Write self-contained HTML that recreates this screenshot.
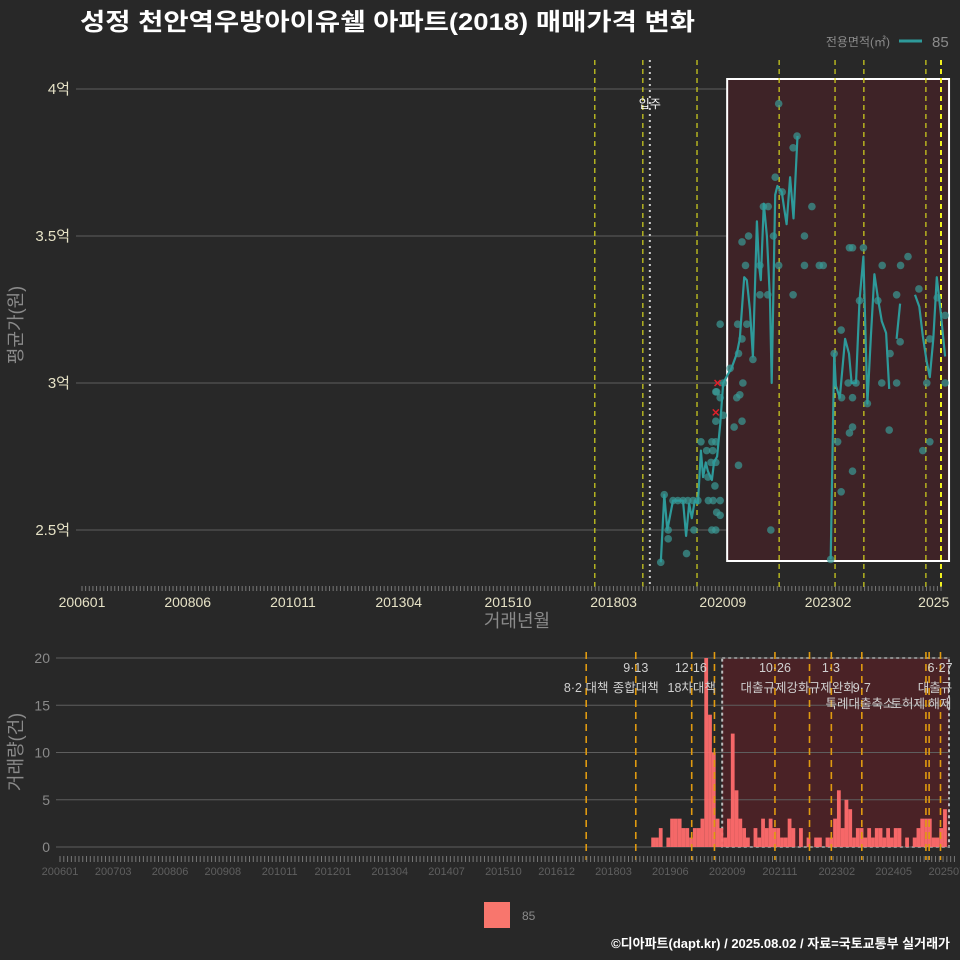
<!DOCTYPE html>
<html><head><meta charset="utf-8">
<style>
html,body{margin:0;padding:0;background:#282828;}
svg{display:block;font-family:"Liberation Sans","Noto Sans CJK KR",sans-serif;}
</style></head>
<body>
<svg id="chart" width="960" height="960" viewBox="0 0 960 960" xmlns="http://www.w3.org/2000/svg">
<rect x="0" y="0" width="960" height="960" fill="#282828"/>
<text x="80" y="30" fill="#ffffff" font-size="24" font-weight="bold" textLength="615" lengthAdjust="spacingAndGlyphs">성정 천안역우방아이유쉘 아파트(2018) 매매가격 변화</text>
<g>
<text x="890" y="46" fill="#8a8a8a" font-size="12" text-anchor="end">전용면적(㎡)</text>
<line x1="899" y1="41" x2="922" y2="41" stroke="#2e9a9a" stroke-width="3"/>
<text x="932" y="47" fill="#8a8a8a" font-size="15">85</text>
</g>
<g id="topPanel"></g>
<g id="bottomPanel"></g>
<g>
<rect x="484" y="902" width="26" height="26" fill="#f8766d"/>
<text x="522" y="920" fill="#8a8a8a" font-size="12">85</text>
</g>
<text x="950" y="948" fill="#ffffff" font-size="13" font-weight="bold" text-anchor="end">©디아파트(dapt.kr) / 2025.08.02 / 자료=국토교통부 실거래가</text>
</svg>
<script>
// ---- top chart data (decimal year, price in 억) ----
const lineDates=[2019.25,2019.33,2019.40,2019.53,2019.76,2019.83,2019.90,2019.96,2020.03,2020.10,2020.17,2020.22,2020.28,2020.33,2020.42,2020.47,2020.54,2020.61,2020.68,2020.79,2020.87,2020.99,2021.06,2021.16,2021.22,2021.29,2021.36,2021.45,2021.50,2021.54,2021.61,2021.68,2021.75,2021.79,2021.87,2021.92,2022.02,2022.07,2022.13,2022.21,2022.25,2022.29,2022.38,null,2023.14,2023.22,2023.26,2023.35,2023.47,2023.56,2023.62,2023.72,2023.80,2023.89,2023.98,2024.06,2024.14,2024.23,2024.31,2024.41,2024.48,null,2024.65,2024.73,null,2025.07,2025.17,2025.25,2025.34,2025.41,2025.49,2025.57,2025.66,2025.76];
const lineValues=[2.39,2.62,2.50,2.60,2.60,2.48,2.59,2.54,2.60,2.59,2.77,2.68,2.73,2.70,2.67,2.73,2.75,2.86,3.00,3.03,3.05,3.10,3.15,3.36,3.35,3.25,3.09,3.55,3.40,3.35,3.61,3.50,3.28,3.00,3.64,3.67,3.65,3.60,3.54,3.70,3.63,3.56,3.84,null,2.40,3.10,2.99,2.95,3.15,3.10,3.00,3.00,3.28,3.43,2.93,3.16,3.37,3.28,3.21,3.17,2.98,null,3.15,3.27,null,3.30,3.26,3.16,3.07,3.02,3.15,3.36,3.24,3.09];
const pointDates=[2021.95,2022.37,2022.28,2021.87,2022.03,2022.71,2021.60,2021.71,2021.11,2021.26,2021.83,2022.54,2023.57,2023.64,2023.89,2021.19,2021.52,2021.95,2022.54,2022.88,2022.97,2024.32,2024.74,2024.91,2021.52,2021.70,2022.28,2024.65,2025.16,2020.61,2021.01,2021.22,2021.11,2021.36,2021.03,2020.84,2023.22,2023.38,2023.80,2024.22,2024.50,2024.73,2025.76,2025.58,2025.41,2020.68,2021.13,2024.31,2024.65,2023.54,2023.72,2025.34,2025.76,2020.51,2020.99,2023.39,2023.64,2023.98,2020.51,2020.68,2020.93,2021.11,2021.03,2024.48,2023.64,2023.57,2023.30,2025.41,2025.25,2023.64,2023.38,2021.77,2023.14,2020.53,2020.61,2021.06,2020.17,2020.42,2020.51,2020.30,2020.44,2020.40,2020.51,2020.33,2020.49,2019.53,2019.64,2019.76,2019.87,2019.99,2020.10,2020.34,2020.45,2020.61,2020.53,2020.61,2020.42,2020.51,2020.01,2019.42,2019.42,2019.84,2019.25,2019.33];
const pointValues=[3.95,3.84,3.80,3.70,3.65,3.60,3.60,3.60,3.48,3.50,3.50,3.50,3.46,3.46,3.46,3.40,3.40,3.40,3.40,3.40,3.40,3.40,3.40,3.43,3.30,3.30,3.30,3.30,3.32,3.20,3.20,3.20,3.15,3.08,3.10,3.05,3.10,3.18,3.28,3.28,3.10,3.14,3.23,3.29,3.15,3.00,3.00,3.00,3.00,3.00,3.00,3.00,3.00,2.97,2.95,2.95,2.95,2.93,2.87,2.89,2.85,2.87,2.72,2.84,2.85,2.83,2.80,2.80,2.77,2.70,2.63,2.50,2.40,2.97,2.95,2.96,2.80,2.80,2.80,2.77,2.77,2.73,2.73,2.68,2.65,2.60,2.60,2.60,2.60,2.60,2.60,2.60,2.60,2.60,2.56,2.55,2.50,2.50,2.50,2.50,2.47,2.42,2.39,2.62];
const crossDates=[2020.51,2020.55];
const crossValues=[2.90,3.00];
const yTicks=[2.5,3,3.5,4];
const yTickLabels=["2.5억","3억","3.5억","4억"];
const xTickLabels=["200601","200806","201011","201304","201510","201803","202009","202302","2025"];
const xTickDates=[2006.0,2008.42,2010.83,2013.25,2015.75,2018.17,2020.67,2023.08,2025.5];
const topPolicyDates=[2017.74,2018.84,2020.08,2021.96,2023.24,2023.90,2025.32];
const moveInDate=2019.0;
const topShade=[2020.77,2025.85];
// ---- bottom chart data ----
const barStart=[2019,1];
const barCounts=[1,1,2,0,1,3,3,3,2,2,1,2,2,3,20,14,10,3,2,1,3,12,6,3,2,1,0,2,1,3,2,3,2,2,1,1,3,2,0,2,0,1,0,1,1,0,1,1,3,6,2,5,4,1,2,2,1,2,1,2,2,1,2,1,2,2,0,1,0,1,2,3,3,3,1,1,2,4];
const bYTicks=[0,5,10,15,20];
const bXTickLabels=["200601","200703","200806","200908","201011","201201","201304","201407","201510","201612","201803","201906","202009","202111","202302","202405","202507"];
const bXTickDates=[2006.0,2007.17,2008.42,2009.58,2010.83,2012.0,2013.25,2014.5,2015.75,2016.92,2018.17,2019.42,2020.67,2021.83,2023.08,2024.33,2025.5];
const bPolicyDates=[2017.57,2018.66,2019.89,2020.39,2021.72,2022.48,2022.96,2023.63,2025.04,2025.11,2025.36];
const bShade=[2020.56,2025.48];
const bNotesText=["8·2 대책","9·13","종합대책","12·16","18차대책","10·26","대출규제강화","1·3","규제완화","9·7","특례대출축소","토허제 해제","6·27","대출규"];
const bNotesDate=[2017.57,2018.66,2018.66,2019.87,2019.89,2021.72,2021.72,2022.95,2022.97,2023.63,2023.59,2024.93,2025.35,2025.24];
const bNotesRow=[1,0,1,0,1,0,1,0,1,1,2,2,0,1];
const rowBase=[672,692,708];

const NS="http://www.w3.org/2000/svg";
function mk(tag,attrs,parent,txt){const e=document.createElementNS(NS,tag);for(const k in attrs)e.setAttribute(k,attrs[k]);if(txt!==undefined)e.textContent=txt;parent.appendChild(e);return e;}
const tx=t=>82+(t-2006)*43.68;
const ty=v=>383-(v-3)*294;
const topG=document.getElementById('topPanel');


yTicks.forEach((v,i)=>{
  const g=mk('line',{x1:76,x2:950,y1:ty(v),y2:ty(v),stroke:'#5e5e5e','stroke-width':1},topG);
  
  
  const t=mk('text',{x:70,y:ty(v)+5,fill:'#e6e2c6','font-size':15,'text-anchor':'end'},topG,yTickLabels[i]);
  
  
});
const sh=mk('rect',{x:tx(topShade[0]),y:79,width:tx(topShade[1])-tx(topShade[0]),height:482,fill:'#3e2327',stroke:'#ffffff','stroke-width':2},topG);


topPolicyDates.forEach(d=>{
  const l=mk('line',{x1:tx(d),x2:tx(d),y1:60,y2:588,stroke:'#d6d61e','stroke-width':1.2,'stroke-dasharray':'5,4'},topG);
  
  
});
{const l=mk('line',{x1:941,x2:941,y1:60,y2:588,stroke:'#f0f020','stroke-width':2,'stroke-dasharray':'5,4'},topG);

}
{const l=mk('line',{x1:tx(moveInDate),x2:tx(moveInDate),y1:60,y2:588,stroke:'#cccccc','stroke-width':2,'stroke-dasharray':'2,4'},topG);


const t=mk('text',{x:tx(moveInDate),y:108,fill:'#ffffff','font-size':12,'text-anchor':'middle'},topG,'입주');

}
for(let m=0;m<=236;m++){
  const x=82+m*3.64;
  const l=mk('line',{x1:x,x2:x,y1:586,y2:591,stroke:'#777','stroke-width':1},topG);
  
  
}
xTickLabels.forEach((s,i)=>{
  const t=mk('text',{x:tx(xTickDates[i]),y:607,fill:'#e6e2c6','font-size':14,'text-anchor':'middle'},topG,s);
  
  
});
{const t=mk('text',{x:517,y:627,fill:'#8a8a8a','font-size':18,'text-anchor':'middle'},topG,'거래년월');


const t2=mk('text',{x:22,y:325,fill:'#8a8a8a','font-size':18,'text-anchor':'middle',transform:'rotate(-90 22 325)'},topG,'평균가(원)');

}
pointDates.forEach((d,i)=>{
  const c=mk('circle',{cx:tx(d),cy:ty(pointValues[i]),r:3.8,fill:'#3a9a96','fill-opacity':0.7},topG);
  
  
});
let dstr='',pen=false;
lineDates.forEach((d,i)=>{
  if(d===null||lineValues[i]===null){pen=false;return;}
  dstr+=(pen?'L':'M')+tx(d).toFixed(1)+','+ty(lineValues[i]).toFixed(1);pen=true;
});
{const p=mk('path',{d:dstr,fill:'none',stroke:'#2e9a9a','stroke-width':2.2,'stroke-linejoin':'round'},topG);

}
crossDates.forEach((d,i)=>{
  const x=tx(d),y=ty(crossValues[i]);
  const p=mk('path',{d:`M${x-3},${y-3}L${x+3},${y+3}M${x-3},${y+3}L${x+3},${y-3}`,stroke:'#e0202a','stroke-width':1.5},topG);
  
  
});
const bx=t=>60+(t-2006)*45.48;
const by=v=>847-v*9.45;
const botG=document.getElementById('bottomPanel');


{const r=mk('rect',{x:bx(bShade[0]),y:658,width:949-bx(bShade[0]),height:189,fill:'#4a2226',stroke:'#bbbbbb','stroke-width':2,'stroke-dasharray':'3,3'},botG);

}
bYTicks.forEach(v=>{
  const g=mk('line',{x1:56,x2:950,y1:by(v),y2:by(v),stroke:'#5e5e5e','stroke-width':1},botG);
  
  
  const t=mk('text',{x:50,y:by(v)+5,fill:'#8a8a8a','font-size':14,'text-anchor':'end'},botG,String(v));
  
  
});
barCounts.forEach((c,i)=>{
  if(!c)return;
  const t=barStart[0]+(barStart[1]-1+i)/12;
  const x=bx(t),w=45.48/12;
  const r=mk('rect',{x:x,y:by(c),width:w,height:by(0)-by(c),fill:'#ff6b6b','fill-opacity':0.95},botG);
  
  
});
bPolicyDates.forEach(d=>{
  const l=mk('line',{x1:bx(d),x2:bx(d),y1:652,y2:860,stroke:'#e09a10','stroke-width':1.6,'stroke-dasharray':'7,5'},botG);
  
  
});
bNotesText.forEach((s,i)=>{
  const t=mk('text',{x:bx(bNotesDate[i]),y:rowBase[bNotesRow[i]],fill:'#d0d0d0','font-size':12.5,'text-anchor':'middle'},botG,s);
  
  
});
for(let m=0;m<=236;m++){
  const x=60+m*3.79;
  const l=mk('line',{x1:x,x2:x,y1:856,y2:862,stroke:'#777','stroke-width':1},botG);
  
  
}
bXTickLabels.forEach((s,i)=>{
  const t=mk('text',{x:bx(bXTickDates[i]),y:875,fill:'#5f5f5f','font-size':11,'text-anchor':'middle'},botG,s);
  
  
});
{const t=mk('text',{x:22,y:752,fill:'#8a8a8a','font-size':18,'text-anchor':'middle',transform:'rotate(-90 22 752)'},botG,'거래량(건)');

}
</script>
</body></html>
